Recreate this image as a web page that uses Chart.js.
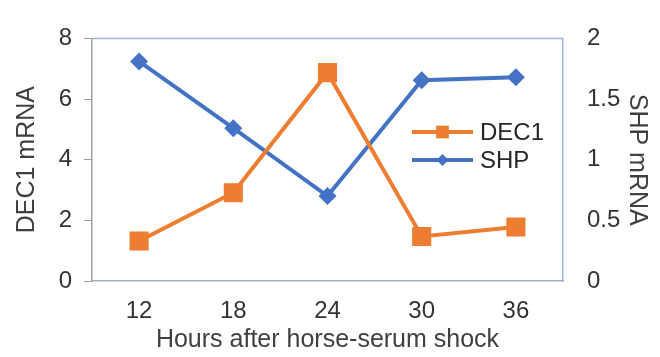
<!DOCTYPE html>
<html lang="en">
<head>
<meta charset="UTF-8">
<title>DEC1 and SHP mRNA after horse-serum shock</title>
<script src="https://cdn.jsdelivr.net/npm/chart.js"></script>
<style>
  html, body { margin: 0; padding: 0; background: #fff; }
  #wrap { width: 660px; height: 357px; }
</style>
</head>
<body>
<div id="wrap"><canvas id="mrnaChart" width="660" height="357"></canvas></div>
<script>
// values
const hours = ['12', '18', '24', '30', '36'];
const dec1 = [1.32, 2.91, 6.87, 1.47, 1.78];
const shp = [1.81, 1.26, 0.70, 1.655, 1.68];

const orange = '#ED7D31';
const blue = '#4472C4';
const fontFam = '"Liberation Sans", Arial, sans-serif';

// top edge of the plot box
const topBorder = {
  id: 'topBorder',
  afterDraw(chart) {
    const { ctx, chartArea: a } = chart;
    ctx.save();
    ctx.strokeStyle = '#9db4e0';
    ctx.lineWidth = 1.5;
    ctx.beginPath();
    ctx.moveTo(a.left, a.top);
    ctx.lineTo(a.right, a.top);
    ctx.stroke();
    ctx.restore();
  }
};

// legend sitting inside the plot, right side
const innerLegend = {
  id: 'innerLegend',
  afterDatasetsDraw(chart) {
    const { ctx, chartArea: a } = chart;
    const x0 = a.right - 151, x1 = a.right - 90;
    const xm = (x0 + x1) / 2;
    chart.data.datasets.forEach((ds, i) => {
      const y = 132 + i * 28;
      ctx.save();
      ctx.strokeStyle = ds.borderColor;
      ctx.lineWidth = 4;
      ctx.beginPath();
      ctx.moveTo(x0, y);
      ctx.lineTo(x1, y);
      ctx.stroke();
      ctx.fillStyle = ds.borderColor;
      Chart.helpers.drawPoint(ctx, {
        pointStyle: ds.pointStyle,
        radius: ds.pointStyle === 'rect' ? 9 : 6,
        rotation: 0,
        borderWidth: 0
      }, xm, y);
      ctx.fillStyle = '#262626';
      ctx.font = '24px ' + fontFam;
      ctx.textBaseline = 'middle';
      ctx.textAlign = 'left';
      ctx.fillText(ds.label, x1 + 7, y + 1);
      ctx.restore();
    });
  }
};

const ctx = document.getElementById('mrnaChart').getContext('2d');
new Chart(ctx, {
  type: 'line',
  data: {
    labels: hours,
    datasets: [
      {
        label: 'DEC1',
        data: dec1,
        yAxisID: 'y',
        borderColor: orange,
        backgroundColor: orange,
        borderWidth: 4,
        pointStyle: 'rect',
        pointRadius: 13.5,
        pointBorderWidth: 0,
        tension: 0
      },
      {
        label: 'SHP',
        data: shp,
        yAxisID: 'y1',
        borderColor: blue,
        backgroundColor: blue,
        borderWidth: 4,
        pointStyle: 'rectRot',
        pointRadius: 9,
        pointBorderWidth: 0,
        tension: 0
      }
    ]
  },
  options: {
    responsive: false,
    animation: false,
    devicePixelRatio: 1,
    layout: { padding: { top: 20, left: 0, right: 0, bottom: 0 } },
    plugins: {
      legend: { display: false },
      tooltip: { enabled: false }
    },
    scales: {
      x: {
        offset: true,
        grid: { display: false, drawTicks: false },
        border: { color: '#a6aebc', width: 1.5 },
        ticks: { color: '#333', font: { size: 24, family: fontFam }, padding: 16 },
        title: {
          display: true,
          text: 'Hours after horse-serum shock',
          color: '#404040',
          font: { size: 25, family: fontFam },
          padding: { top: 0, bottom: 2 }
        },
        afterFit: s => { s.height = 76; }
      },
      y: {
        position: 'left',
        min: 0,
        max: 8,
        ticks: { stepSize: 2, color: '#333', font: { size: 24, family: fontFam }, padding: 12 },
        grid: { drawOnChartArea: false, drawTicks: true, tickLength: 8, color: '#a0a0a0' },
        border: { color: '#a0a0a0', width: 1.5 },
        title: {
          display: true,
          text: 'DEC1 mRNA',
          color: '#404040',
          font: { size: 25, family: fontFam },
          padding: { top: 12, bottom: 0 }
        },
        afterFit: s => { s.width = 92; }
      },
      y1: {
        position: 'right',
        min: 0,
        max: 2,
        ticks: {
          stepSize: 0.5,
          color: '#333',
          font: { size: 24, family: fontFam },
          padding: 24,
          callback: v => String(v)
        },
        grid: { display: false, drawTicks: false },
        border: { color: '#9db4e0', width: 1.5 },
        title: {
          display: true,
          text: 'SHP mRNA',
          color: '#404040',
          font: { size: 25, family: fontFam },
          padding: { top: 8, bottom: 0 }
        },
        afterFit: s => { s.width = 97; }
      }
    }
  },
  plugins: [topBorder, innerLegend]
});
</script>
</body>
</html>
